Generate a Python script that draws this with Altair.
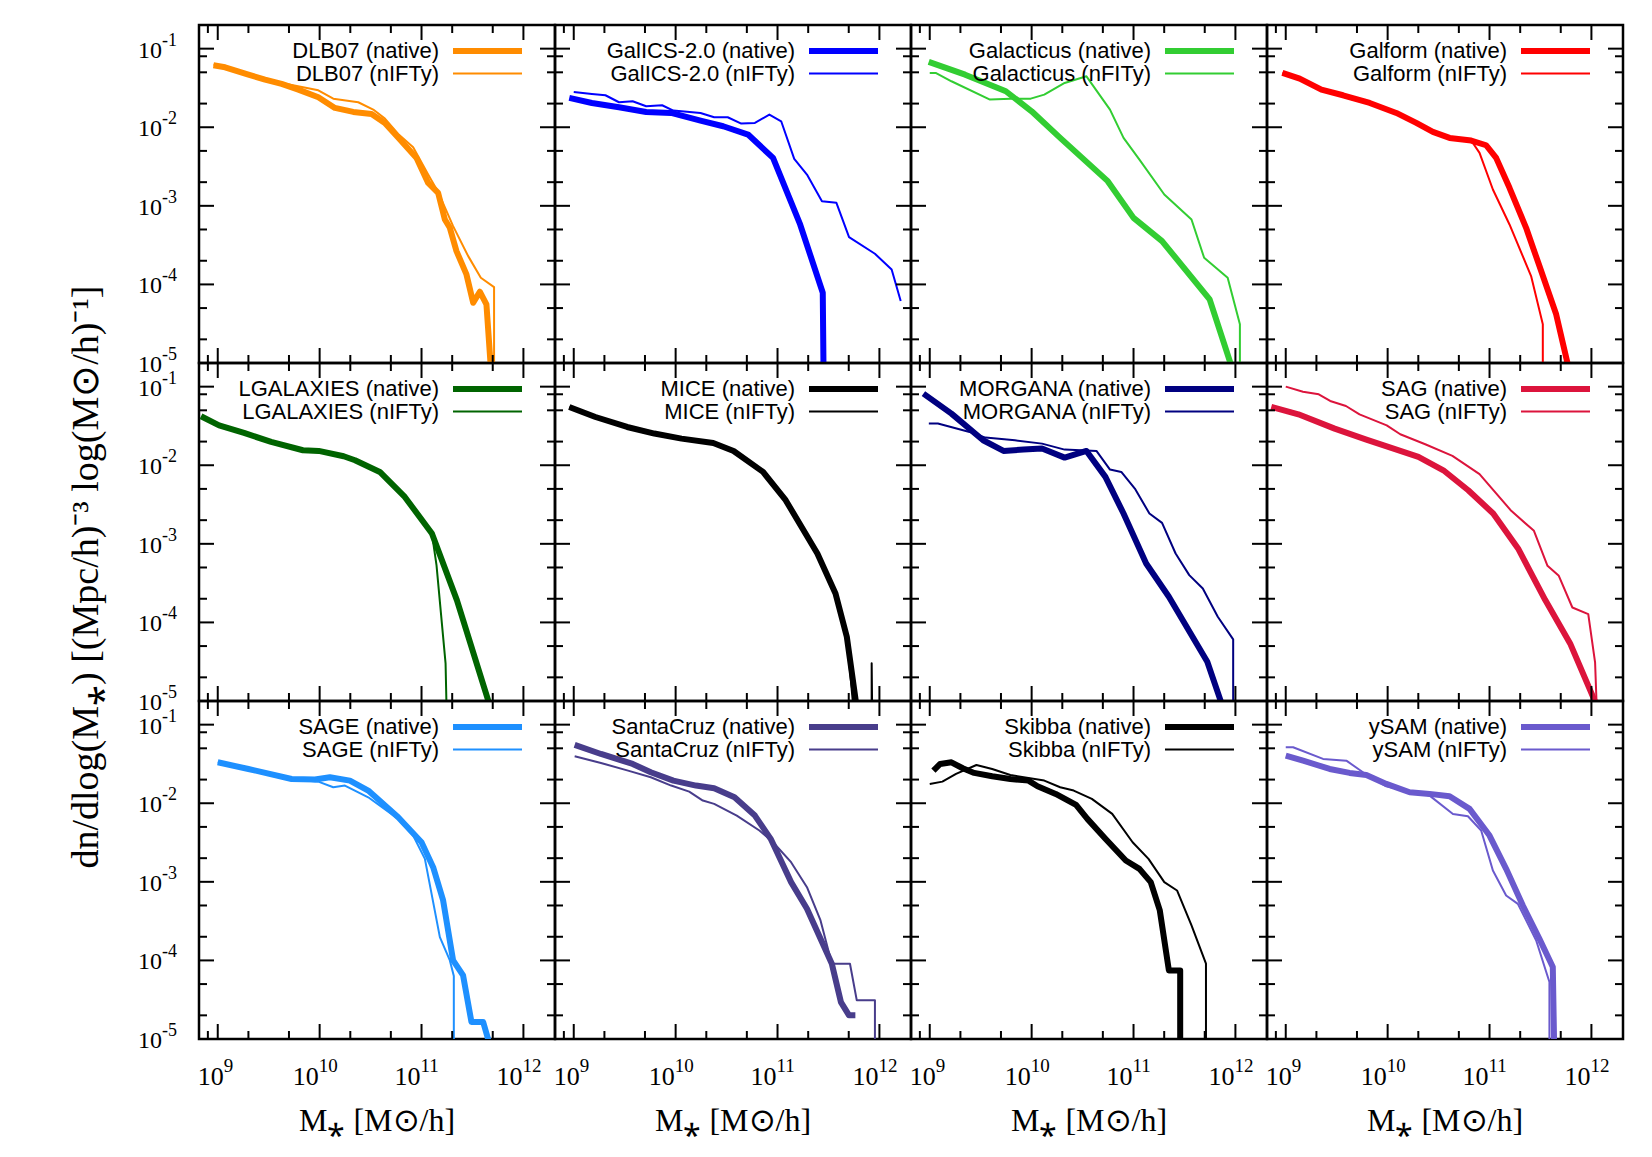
import altair as alt
import pandas as pd

# ---------------- data (log10 M*, log10 phi) ----------------
models = ["DLB07", "GalICS-2.0", "Galacticus", "Galform",
          "LGALAXIES", "MICE", "MORGANA", "SAG",
          "SAGE", "SantaCruz", "Skibba", "ySAM"]
nifty_tags = ["nIFTy", "nIFTy", "nFITy", "nIFTy",
              "nIFTy", "nIFTy", "nIFTy", "nIFTy",
              "nIFTy", "nIFTy", "nIFTy", "nIFTy"]
colors = ["#ff8c00", "#0000ff", "#32cd32", "#ff0000",
          "#006400", "#000000", "#000080", "#dc143c",
          "#1e90ff", "#483d8b", "#000000", "#6a5acd"]

dlb07_nat_m = [8.958, 9.072, 9.301, 9.464, 9.627, 9.791, 9.987, 10.15, 10.33, 10.51, 10.64, 10.788, 10.951, 11.065, 11.163, 11.229, 11.278, 11.343, 11.441, 11.507, 11.572, 11.637, 11.693]
dlb07_nat_p = [-1.212, -1.237, -1.331, -1.394, -1.449, -1.521, -1.619, -1.754, -1.805, -1.831, -1.945, -2.157, -2.39, -2.708, -2.835, -3.174, -3.28, -3.576, -3.873, -4.233, -4.093, -4.254, -5.3]
dlb07_nif_m = [8.958, 9.301, 9.627, 9.987, 10.134, 10.379, 10.526, 10.641, 10.771, 10.918, 11.065, 11.167, 11.31, 11.458, 11.582, 11.712, 11.712]
dlb07_nif_p = [-1.203, -1.322, -1.436, -1.53, -1.636, -1.682, -1.775, -1.89, -2.085, -2.254, -2.602, -2.835, -3.258, -3.64, -3.915, -4.034, -5.3]

galics_nat_m = [8.956, 9.178, 9.444, 9.711, 9.956, 10.244, 10.467, 10.711, 10.956, 11.222, 11.444, 11.453]
galics_nat_p = [-1.627, -1.691, -1.746, -1.805, -1.818, -1.915, -1.987, -2.093, -2.39, -3.237, -4.106, -5.3]
galics_nif_m = [9.0, 9.178, 9.311, 9.444, 9.578, 9.711, 9.867, 9.978, 10.244, 10.378, 10.511, 10.644, 10.778, 10.92, 11.036, 11.164, 11.289, 11.436, 11.578, 11.702, 11.956, 12.12, 12.209]
galics_nif_p = [-1.551, -1.576, -1.593, -1.682, -1.669, -1.733, -1.72, -1.788, -1.818, -1.873, -1.873, -1.953, -1.945, -1.839, -1.924, -2.403, -2.602, -2.941, -2.962, -3.398, -3.61, -3.81, -4.212]

galacticus_nat_m = [8.99, 9.347, 9.747, 10.0, 10.28, 10.747, 11.0, 11.28, 11.747, 11.956, 12.02]
galacticus_nat_p = [-1.169, -1.331, -1.542, -1.797, -2.136, -2.686, -3.153, -3.449, -4.19, -5.02, -5.3]
galacticus_nif_m = [9.0, 9.058, 9.213, 9.591, 9.791, 9.991, 10.124, 10.324, 10.538, 10.769, 10.902, 11.058, 11.302, 11.569, 11.693, 11.924, 12.044, 12.044]
galacticus_nif_p = [-1.309, -1.309, -1.415, -1.648, -1.636, -1.636, -1.585, -1.436, -1.352, -1.775, -2.136, -2.411, -2.856, -3.174, -3.661, -3.915, -4.508, -5.3]

galform_nat_m = [8.967, 9.137, 9.35, 9.562, 9.824, 10.085, 10.281, 10.444, 10.608, 10.82, 10.967, 11.065, 11.196, 11.359, 11.49, 11.654, 11.768, 11.82]
galform_nat_p = [-1.309, -1.381, -1.521, -1.593, -1.691, -1.818, -1.945, -2.059, -2.136, -2.169, -2.229, -2.39, -2.771, -3.28, -3.767, -4.381, -5.017, -5.3]
galform_nif_m = [8.967, 9.137, 9.35, 9.562, 9.824, 10.085, 10.281, 10.444, 10.608, 10.82, 10.902, 11.033, 11.196, 11.408, 11.523, 11.523]
galform_nif_p = [-1.309, -1.381, -1.521, -1.593, -1.691, -1.818, -1.945, -2.059, -2.136, -2.169, -2.326, -2.792, -3.237, -3.894, -4.508, -5.3]

lgal_nat_m = [8.836, 9.013, 9.258, 9.524, 9.836, 9.991, 10.236, 10.347, 10.591, 10.836, 11.102, 11.347, 11.658, 11.72]
lgal_nat_p = [-1.377, -1.492, -1.589, -1.703, -1.809, -1.818, -1.886, -1.936, -2.085, -2.403, -2.869, -3.716, -5.008, -5.3]
lgal_nif_m = [8.836, 9.013, 9.258, 9.524, 9.836, 9.991, 10.236, 10.347, 10.591, 10.79, 10.836, 11.102, 11.147, 11.236, 11.249]
lgal_nif_p = [-1.38, -1.50, -1.59, -1.70, -1.80, -1.82, -1.88, -1.94, -2.08, -2.36, -2.40, -2.87, -3.271, -4.521, -5.3]

mice_nat_m = [8.956, 9.213, 9.524, 9.791, 10.058, 10.369, 10.569, 10.858, 11.08, 11.391, 11.569, 11.68, 11.769, 11.79]
mice_nat_p = [-1.258, -1.386, -1.513, -1.597, -1.661, -1.716, -1.818, -2.085, -2.445, -3.123, -3.631, -4.182, -5.008, -5.3]
mice_nif_m = [8.956, 9.213, 9.524, 9.791, 10.058, 10.369, 10.569, 10.858, 10.95, 11.08, 11.391, 11.569, 11.68, 11.76, 11.924, 11.924, 11.93]
mice_nif_p = [-1.26, -1.39, -1.515, -1.60, -1.665, -1.72, -1.815, -2.09, -2.25, -2.44, -3.12, -3.63, -4.18, -5.3, -5.3, -4.521, -5.3]

morgana_nat_m = [8.938, 9.213, 9.524, 9.724, 9.92, 10.102, 10.324, 10.538, 10.724, 10.902, 11.124, 11.347, 11.724, 11.858, 11.93]
morgana_nat_p = [-1.089, -1.343, -1.682, -1.818, -1.80, -1.788, -1.903, -1.818, -2.148, -2.614, -3.25, -3.674, -4.5, -5.008, -5.3]
morgana_nif_m = [8.991, 9.08, 9.391, 9.547, 9.836, 10.102, 10.324, 10.636, 10.769, 10.88, 11.013, 11.156, 11.28, 11.413, 11.547, 11.68, 11.827, 11.978, 11.978]
morgana_nif_p = [-1.47, -1.47, -1.576, -1.648, -1.682, -1.725, -1.801, -1.818, -2.055, -2.085, -2.297, -2.614, -2.733, -3.123, -3.398, -3.568, -3.928, -4.216, -5.3]

sag_nat_m = [8.858, 9.124, 9.48, 9.791, 10.058, 10.302, 10.547, 10.791, 11.036, 11.28, 11.547, 11.791, 12.036, 12.1]
sag_nat_p = [-1.258, -1.352, -1.534, -1.674, -1.788, -1.894, -2.064, -2.318, -2.614, -3.059, -3.716, -4.267, -5.008, -5.3]
sag_nif_m = [9.0, 9.169, 9.324, 9.436, 9.591, 9.724, 9.991, 10.124, 10.369, 10.636, 10.902, 11.213, 11.436, 11.569, 11.68, 11.813, 11.969, 12.036, 12.058]
sag_nif_p = [-1.0, -1.064, -1.097, -1.182, -1.246, -1.352, -1.492, -1.606, -1.733, -1.881, -2.114, -2.58, -2.835, -3.28, -3.407, -3.81, -3.894, -4.508, -5.3]

sage_nat_m = [9.0, 9.301, 9.725, 9.954, 10.101, 10.297, 10.477, 10.771, 11.0, 11.114, 11.212, 11.31, 11.408, 11.49, 11.605, 11.654, 11.68]
sage_nat_p = [-1.479, -1.564, -1.691, -1.699, -1.669, -1.712, -1.839, -2.178, -2.496, -2.814, -3.237, -4.0, -4.191, -4.784, -4.784, -5.004, -5.3]
sage_nif_m = [9.0, 9.725, 9.987, 10.134, 10.248, 10.477, 10.771, 10.918, 11.033, 11.18, 11.278, 11.317, 11.317]
sage_nif_p = [-1.479, -1.691, -1.725, -1.797, -1.775, -1.924, -2.199, -2.411, -2.708, -3.703, -4.0, -4.199, -5.3]

santacruz_nat_m = [9.009, 9.267, 9.578, 9.756, 9.978, 10.2, 10.378, 10.578, 10.778, 10.933, 11.133, 11.289, 11.533, 11.622, 11.702, 11.764]
santacruz_nat_p = [-1.258, -1.373, -1.5, -1.606, -1.712, -1.775, -1.809, -1.924, -2.157, -2.453, -3.004, -3.343, -4.042, -4.53, -4.699, -4.699]
santacruz_nif_m = [9.009, 9.267, 9.533, 9.756, 9.956, 10.133, 10.267, 10.378, 10.6, 10.822, 10.956, 11.133, 11.289, 11.422, 11.533, 11.711, 11.778, 11.956, 11.956]
santacruz_nif_p = [-1.403, -1.487, -1.585, -1.669, -1.775, -1.852, -1.966, -2.008, -2.157, -2.347, -2.496, -2.75, -3.068, -3.492, -4.042, -4.042, -4.508, -4.508, -5.3]

skibba_nat_m = [9.036, 9.102, 9.213, 9.324, 9.436, 9.613, 9.791, 9.969, 10.058, 10.236, 10.436, 10.547, 10.724, 10.924, 11.058, 11.169, 11.258, 11.347, 11.458, 11.458]
skibba_nat_p = [-1.585, -1.5, -1.479, -1.555, -1.614, -1.657, -1.691, -1.712, -1.784, -1.881, -2.021, -2.199, -2.453, -2.729, -2.835, -3.004, -3.364, -4.127, -4.127, -5.3]
skibba_nif_m = [9.0, 9.124, 9.258, 9.458, 9.613, 9.791, 10.124, 10.28, 10.413, 10.591, 10.791, 10.991, 11.147, 11.302, 11.427, 11.569, 11.711, 11.711]
skibba_nif_p = [-1.754, -1.725, -1.627, -1.513, -1.564, -1.64, -1.712, -1.797, -1.839, -1.945, -2.136, -2.496, -2.708, -3.004, -3.11, -3.555, -4.042, -5.3]

ysam_nat_m = [9.0, 9.17, 9.431, 9.627, 9.791, 9.987, 10.216, 10.412, 10.608, 10.804, 11.0, 11.163, 11.327, 11.49, 11.621, 11.637]
ysam_nat_p = [-1.394, -1.458, -1.564, -1.614, -1.64, -1.754, -1.86, -1.881, -1.911, -2.072, -2.411, -2.835, -3.301, -3.725, -4.085, -5.3]
ysam_nif_m = [9.0, 9.072, 9.366, 9.595, 9.758, 9.987, 10.216, 10.412, 10.641, 10.788, 10.918, 11.033, 11.163, 11.278, 11.458, 11.588, 11.588]
ysam_nif_p = [-1.288, -1.288, -1.436, -1.458, -1.606, -1.784, -1.852, -1.903, -2.136, -2.165, -2.347, -2.856, -3.174, -3.28, -3.746, -4.275, -5.3]

native_curves = [(dlb07_nat_m, dlb07_nat_p), (galics_nat_m, galics_nat_p),
                 (galacticus_nat_m, galacticus_nat_p), (galform_nat_m, galform_nat_p),
                 (lgal_nat_m, lgal_nat_p), (mice_nat_m, mice_nat_p),
                 (morgana_nat_m, morgana_nat_p), (sag_nat_m, sag_nat_p),
                 (sage_nat_m, sage_nat_p), (santacruz_nat_m, santacruz_nat_p),
                 (skibba_nat_m, skibba_nat_p), (ysam_nat_m, ysam_nat_p)]
nifty_curves = [(dlb07_nif_m, dlb07_nif_p), (galics_nif_m, galics_nif_p),
                (galacticus_nif_m, galacticus_nif_p), (galform_nif_m, galform_nif_p),
                (lgal_nif_m, lgal_nif_p), (mice_nif_m, mice_nif_p),
                (morgana_nif_m, morgana_nif_p), (sag_nif_m, sag_nif_p),
                (sage_nif_m, sage_nif_p), (santacruz_nif_m, santacruz_nif_p),
                (skibba_nif_m, skibba_nif_p), (ysam_nif_m, ysam_nif_p)]

# axis ticks / labels
x_major = [1e9, 1e10, 1e11, 1e12]
x_minor = [8e8, 2e9, 5e9, 2e10, 5e10, 2e11, 5e11]
x_exp = ["9", "10", "11", "12"]
y_major = [1e-5, 1e-4, 1e-3, 1e-2, 1e-1]
y_minor = [2e-5, 5e-5, 2e-4, 5e-4, 2e-3, 5e-3, 2e-2, 5e-2, 8e-2]
y_exp = ["-5", "-4", "-3", "-2", "-1"]

x_title = "M\u204e [M\u2299/h]"
y_title = "dn/dlog(M\u204e)  [(Mpc/h)\u207b\u00b3  log(M\u2299/h)\u207b\u00b9]"

# ---------------- layout / style ----------------
W, H = 356, 338
XS = alt.Scale(type="log", domain=[10 ** 8.816, 10 ** 12.31])
YS = alt.Scale(type="log", domain=[1e-5, 0.2])
SERIF = "Liberation Serif"
SANS = "Liberation Sans"
MAJ, MIN = 15, 8


def curve(m, p, color, width):
    df = pd.DataFrame({"M": [10 ** v for v in m], "phi": [10 ** v for v in p],
                       "i": list(range(len(m)))})
    return alt.Chart(df).mark_line(clip=True, color=color, strokeWidth=width,
                                   strokeJoin="round").encode(
        x=alt.X("M:Q", scale=XS, axis=None),
        y=alt.Y("phi:Q", scale=YS, axis=None),
        order=alt.Order("i:Q"))


def xticks(vals, length):
    df = pd.DataFrame({"v": vals})
    base = alt.Chart(df).mark_rule(color="black", strokeWidth=2)
    bot = base.encode(x=alt.X("v:Q", scale=XS, axis=None), y=alt.value(H), y2=alt.value(H - length))
    top = base.encode(x=alt.X("v:Q", scale=XS, axis=None), y=alt.value(0), y2=alt.value(length))
    return [bot, top]


def yticks(vals, length):
    df = pd.DataFrame({"v": vals})
    base = alt.Chart(df).mark_rule(color="black", strokeWidth=2)
    left = base.encode(y=alt.Y("v:Q", scale=YS, axis=None), x=alt.value(0), x2=alt.value(length))
    right = base.encode(y=alt.Y("v:Q", scale=YS, axis=None), x=alt.value(W), x2=alt.value(W - length))
    return [left, right]


one = pd.DataFrame({"a": [0]})


def panel(idx):
    r, c = divmod(idx, 4)
    name, color = models[idx], colors[idx]
    layers = [curve(*native_curves[idx], color, 6), curve(*nifty_curves[idx], color, 2)]
    # legend
    for k, (lab, sw) in enumerate([(f"{name} (native)", 6), (f"{name} ({nifty_tags[idx]})", 2)]):
        yy = 26 + 22.5 * k
        layers.append(alt.Chart(pd.DataFrame({"t": [lab]})).mark_text(
            align="right", baseline="middle", font=SANS, fontSize=22, color="black").encode(
            x=alt.value(240), y=alt.value(yy), text="t:N"))
        layers.append(alt.Chart(one).mark_rule(color=color, strokeWidth=sw).encode(
            x=alt.value(254), x2=alt.value(323), y=alt.value(yy)))
    layers += xticks(x_major, MAJ) + xticks(x_minor, MIN)
    layers += yticks(y_major, MAJ) + yticks(y_minor, MIN)
    if c == 0:
        ydf = pd.DataFrame({"v": y_major, "e": y_exp})
        layers.append(alt.Chart(ydf).mark_text(align="right", baseline="middle", font=SERIF,
                                               fontSize=24, dy=2, color="black").encode(
            y=alt.Y("v:Q", scale=YS, axis=None), x=alt.value(-37), text=alt.value("10")))
        layers.append(alt.Chart(ydf).mark_text(align="left", baseline="middle", font=SERIF,
                                               fontSize=18, dy=-8, color="black").encode(
            y=alt.Y("v:Q", scale=YS, axis=None), x=alt.value(-37), text="e:N"))
    if r == 1 and c == 0:
        layers.append(alt.Chart(pd.DataFrame({"t": [y_title]})).mark_text(
            angle=270, align="center", baseline="middle", font=SERIF, fontSize=38,
            color="black").encode(x=alt.value(-112), y=alt.value(214), text="t:N"))
    if r == 2:
        for vals, exps, shift in [(x_major[:1], x_exp[:1], 6), (x_major[1:], x_exp[1:], -1)]:
            xdf = pd.DataFrame({"v": vals, "e": exps})
            layers.append(alt.Chart(xdf).mark_text(align="right", baseline="middle", font=SERIF,
                                                   fontSize=26, dx=shift, color="black").encode(
                x=alt.X("v:Q", scale=XS, axis=None), y=alt.value(H + 38), text=alt.value("10")))
            layers.append(alt.Chart(xdf).mark_text(align="left", baseline="middle", font=SERIF,
                                                   fontSize=19, dx=shift, color="black").encode(
                x=alt.X("v:Q", scale=XS, axis=None), y=alt.value(H + 27), text="e:N"))
        layers.append(alt.Chart(pd.DataFrame({"t": [x_title]})).mark_text(
            align="center", baseline="middle", font=SERIF, fontSize=32, color="black").encode(
            x=alt.value(W / 2), y=alt.value(H + 82), text="t:N"))
    return alt.layer(*layers).properties(width=W, height=H)


panels = [panel(i) for i in range(12)]
chart = alt.concat(*panels, columns=4, spacing=0, bounds="flush").configure_view(
    stroke="black", strokeWidth=2.5).properties(
    padding={"left": 58, "top": 14, "right": 10, "bottom": 10}, background="white")

chart.save("out.html", embed_options={"renderer": "svg", "actions": False})
